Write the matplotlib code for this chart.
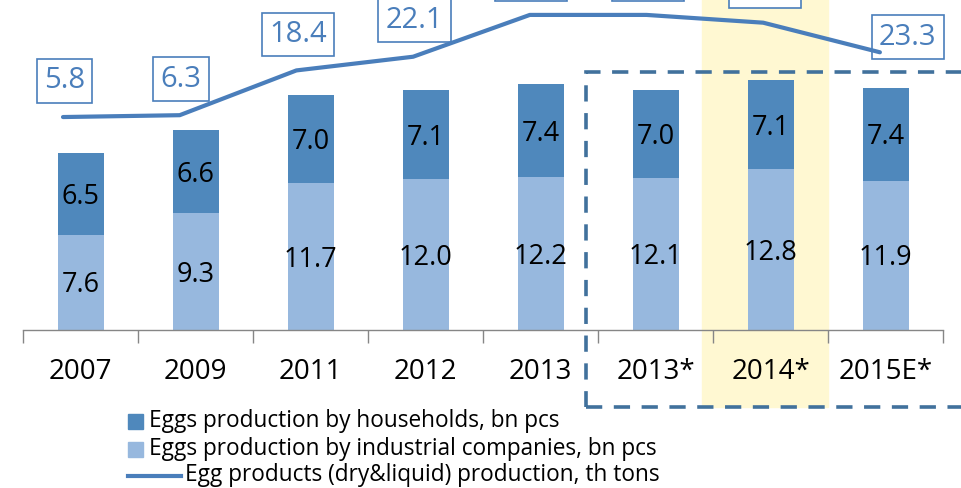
import numpy as np
import matplotlib
matplotlib.use("Agg")
import matplotlib.pyplot as plt
from matplotlib.patches import Rectangle
from matplotlib.lines import Line2D

plt.rcParams['font.family'] = ['Open Sans', 'DejaVu Sans']

# Data
categories = ["2007", "2009", "2011", "2012", "2013", "2013*", "2014*", "2015E*"]
industrial = [7.6, 9.3, 11.7, 12.0, 12.2, 12.1, 12.8, 11.9]
households = [6.5, 6.6, 7.0, 7.1, 7.4, 7.0, 7.1, 7.4]
egg_products = [5.8, 6.3, 18.4, 22.1, 33.4, 33.4, 31.3, 23.3]

legend_labels = ["Eggs production by households, bn pcs",
                 "Eggs production by industrial companies, bn pcs",
                 "Egg products (dry&liquid) production, th tons"]

c_house = "#4F88BC"
c_ind = "#97B8DE"
c_line = "#4A7EBB"
c_box = "#41719C"
c_yellow = "#FFF8D2"

W, H = 961, 488
fig = plt.figure(figsize=(W / 100, H / 100), dpi=100)

def fx(px):
    return px / W

def fy(py):
    return 1 - py / H

# axes: x from 23 to 943 px, baseline at 330 px, top above the figure
ax_left, ax_right, ax_bottom, ax_top = 23, 943, 330, -40
rect = [fx(ax_left), fy(ax_bottom), (ax_right - ax_left) / W, (ax_bottom - ax_top) / H]
ax = fig.add_axes(rect)
ax.set_facecolor("none")
ax2 = fig.add_axes(rect)
ax2.set_facecolor("none")
ax2.axis("off")

x = np.arange(len(categories))
bar_scale = 12.55  # px per unit
ax.set_xlim(-0.5, len(categories) - 0.5)
ax.set_ylim(0, (ax_bottom - ax_top) / bar_scale)

ax.bar(x, industrial, width=0.4, color=c_ind, zorder=2)
ax.bar(x, households, width=0.4, bottom=industrial, color=c_house, zorder=2)
for i in range(len(categories)):
    ax.text(x[i], industrial[i] / 2 - 0.25, f"{industrial[i]:.1f}", ha="center", va="center",
            fontsize=19.5, color="black", zorder=3)
    ax.text(x[i], industrial[i] + households[i] / 2 - 0.25, f"{households[i]:.1f}", ha="center",
            va="center", fontsize=19.5, color="black", zorder=3)

for s in ["top", "right", "left"]:
    ax.spines[s].set_visible(False)
ax.spines["bottom"].set_color("#868686")
ax.spines["bottom"].set_linewidth(1.0)
ax.set_yticks([])
ax.set_xticks(np.arange(len(categories) + 1) - 0.5)
ax.set_xticklabels([])
ax.tick_params(axis="x", length=9, width=1.0, color="#868686", direction="out")
for i, c in enumerate(categories):
    ax.text(x[i], -3.35, c, ha="center", va="center", fontsize=20, color="black")

# line on its own scale (shifted a little like the original)
line_px = 116.7
lx0 = -(63 - ax_left) / line_px
ax2.set_xlim(lx0, lx0 + (ax_right - ax_left) / line_px)
lscale = 3.7
zero_px = 138.5
ax2.set_ylim((zero_px - ax_bottom) / lscale, (zero_px - ax_top) / lscale)
ax2.plot(x, egg_products, color=c_line, lw=3, solid_capstyle="round", zorder=5)
for i, v in enumerate(egg_products):
    dx, dy = 1, 26
    if i == len(egg_products) - 1:
        dx, dy = 20, 11
    ax2.annotate(f"{v:.1f}", (x[i], v), xytext=(dx, dy), textcoords="offset points",
                 ha="center", va="center", fontsize=21, color=c_line, zorder=4,
                 bbox=dict(boxstyle="square,pad=0.25", fc="white", ec=c_line, lw=1.2))

# yellow highlight behind 2014*
fig.patches.append(Rectangle((fx(702), fy(407)), (828 - 702) / W, 407 / H + 0.1,
                             transform=fig.transFigure, color=c_yellow, zorder=-1))

# dashed box around estimates
fig.patches.append(Rectangle((fx(586), fy(407)), (1000 - 586) / W, (407 - 72) / H,
                             transform=fig.transFigure, fill=False, ec=c_box, lw=2.6,
                             ls=(0, (4.5, 3.2)), zorder=10))

# legend
fig.patches.append(Rectangle((fx(128), fy(429)), 15 / W, 15 / H, transform=fig.transFigure,
                             color=c_house))
fig.patches.append(Rectangle((fx(128), fy(457)), 15 / W, 15 / H, transform=fig.transFigure,
                             color=c_ind))
fig.lines.append(Line2D([fx(128), fx(181)], [fy(476), fy(476)], transform=fig.transFigure,
                        color=c_line, lw=3))
fig.text(fx(149), fy(421), legend_labels[0], fontsize=16.3, va="center", ha="left")
fig.text(fx(149), fy(449), legend_labels[1], fontsize=16.3, va="center", ha="left")
fig.text(fx(185), fy(475), legend_labels[2], fontsize=16.3, va="center", ha="left")

fig.savefig("out.png", dpi=100)
